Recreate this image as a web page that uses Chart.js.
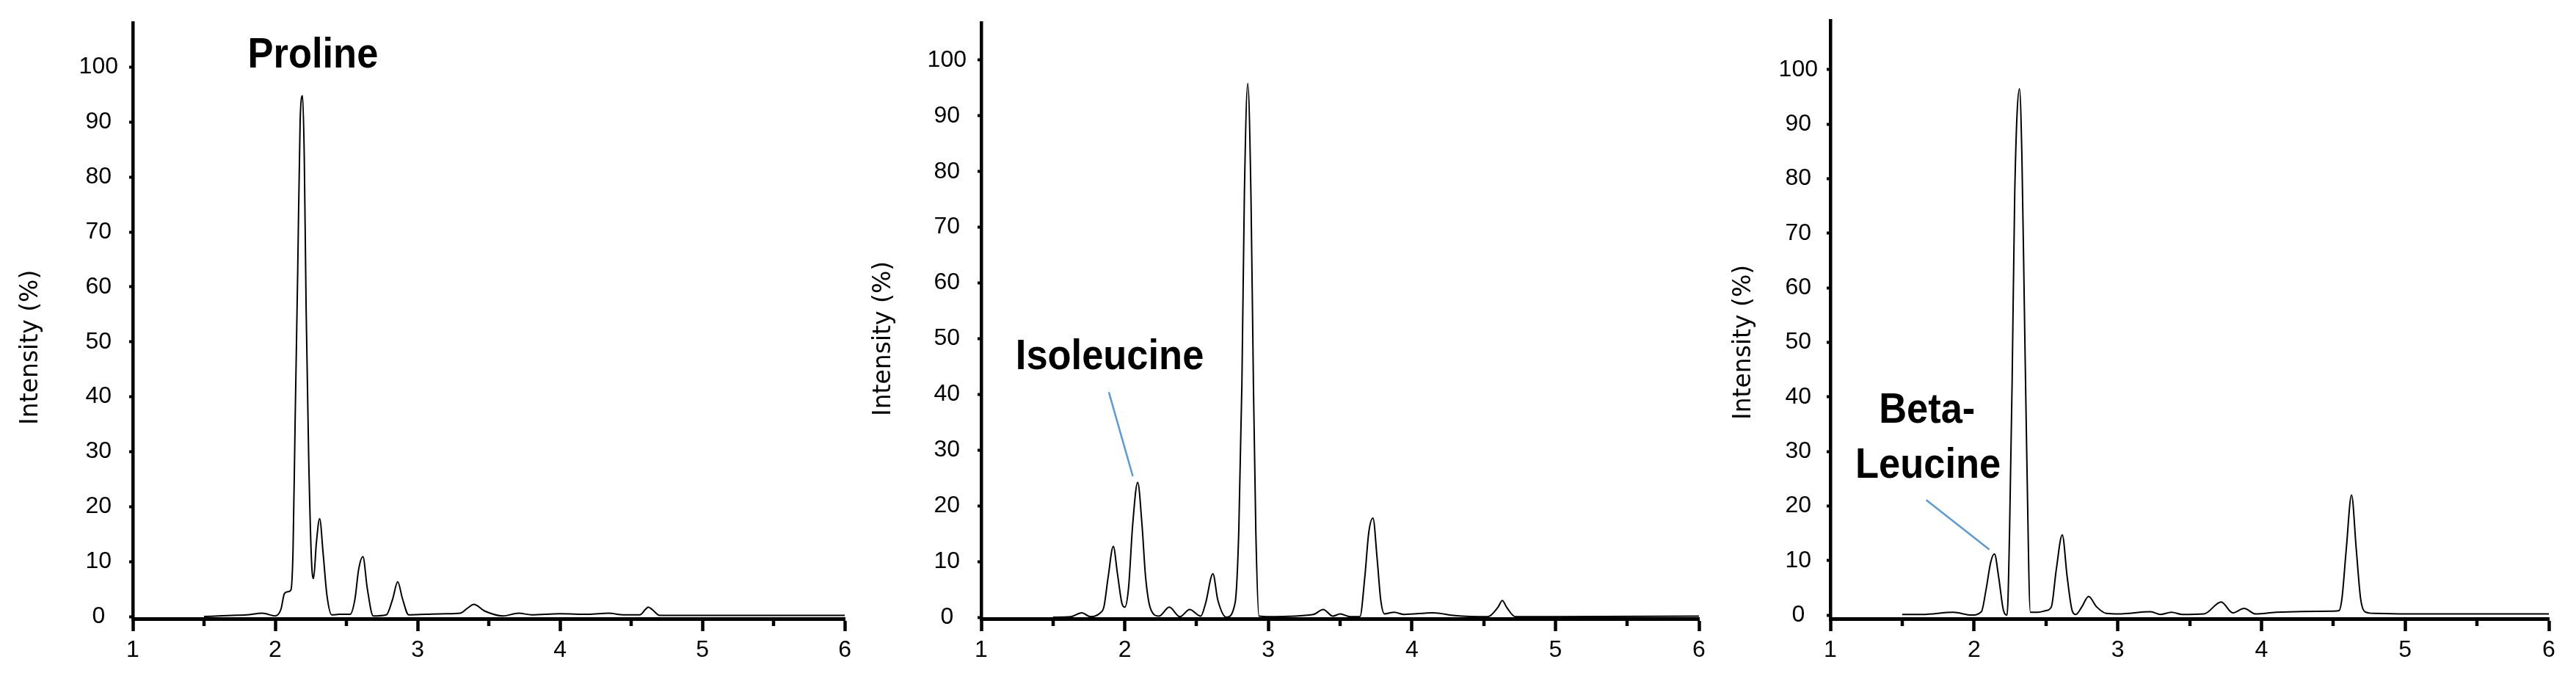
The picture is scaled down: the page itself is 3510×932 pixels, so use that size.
<!DOCTYPE html>
<html><head><meta charset="utf-8">
<script src="https://cdn.jsdelivr.net/npm/chart.js@4.4.1/dist/chart.umd.min.js"></script>
<style>
html,body{margin:0;padding:0;background:#fff;}
#wrap{position:relative;width:3510px;height:932px;background:#fff;overflow:hidden;}
canvas{position:absolute;top:0;}
</style></head><body>
<div id="wrap">
<canvas id="c1" width="1170" height="932" style="left:0px"></canvas>
<canvas id="c2" width="1170" height="932" style="left:1170px"></canvas>
<canvas id="c3" width="1170" height="932" style="left:2340px"></canvas>
</div>
<script>
// ---------- data ----------
const xTicks = [1, 2, 3, 4, 5, 6];
const xMinorTicks = [1.5, 2.5, 3.5, 4.5, 5.5];
const yTicks = [0, 10, 20, 30, 40, 50, 60, 70, 80, 90, 100];
const yTitle = 'Intensity (%)';

const prolineTime = [1.50, 1.60, 1.70, 1.80, 1.91, 2.00, 2.04, 2.065, 2.09, 2.11, 2.125, 2.14, 2.158, 2.175, 2.192, 2.204, 2.217, 2.235, 2.255, 2.269, 2.289, 2.312, 2.337, 2.363, 2.397, 2.45, 2.526, 2.56, 2.586, 2.616, 2.646, 2.688, 2.78, 2.825, 2.86, 2.894, 2.937, 3.06, 3.20, 3.30, 3.35, 3.395, 3.47, 3.60, 3.71, 3.80, 4.00, 4.20, 4.34, 4.45, 4.56, 4.60, 4.62, 4.65, 4.70, 5.00, 5.50, 6.00];
const prolineIntensity = [0.0, 0.1, 0.2, 0.3, 0.6, 0.1, 1.3, 4.2, 4.5, 4.8, 12.0, 35.9, 63.0, 90.3, 94.8, 83.5, 56.0, 29.0, 10.0, 6.9, 13.4, 17.8, 11.3, 3.9, 0.3, 0.4, 0.4, 3.2, 8.6, 10.9, 5.2, 0.1, 0.3, 3.2, 6.3, 3.2, 0.3, 0.4, 0.5, 0.6, 1.5, 2.2, 1.0, 0.1, 0.6, 0.3, 0.5, 0.4, 0.6, 0.3, 0.3, 1.3, 1.7, 1.2, 0.2, 0.2, 0.2, 0.2];

const isoleucineTime = [1.50, 1.625, 1.70, 1.76, 1.83, 1.855, 1.884, 1.92, 1.949, 1.98, 2.00, 2.026, 2.055, 2.09, 2.12, 2.145, 2.18, 2.239, 2.31, 2.384, 2.452, 2.529, 2.563, 2.614, 2.648, 2.708, 2.768, 2.794, 2.816, 2.833, 2.857, 2.879, 2.896, 2.913, 2.935, 3.007, 3.314, 3.382, 3.45, 3.50, 3.57, 3.638, 3.672, 3.70, 3.729, 3.758, 3.783, 3.809, 3.877, 3.945, 4.147, 4.30, 4.53, 4.60, 4.63, 4.66, 4.72, 5.00, 6.00];
const isoleucineIntensity = [0.0, 0.1, 0.8, 0.1, 0.8, 1.9, 7.2, 12.7, 7.8, 2.5, 1.8, 5.2, 16.6, 24.2, 16.6, 7.2, 1.5, 0.2, 1.8, 0.1, 1.4, 0.2, 2.5, 7.8, 3.1, 0.0, 2.5, 15.3, 42.1, 75.6, 95.8, 75.6, 42.1, 15.3, 0.2, 0.1, 0.5, 1.4, 0.2, 0.6, 0.1, 0.1, 7.2, 15.3, 17.8, 10.5, 3.1, 0.6, 0.9, 0.5, 0.8, 0.3, 0.1, 1.8, 3.0, 1.8, 0.1, 0.1, 0.2];

const betaLeucineTime = [1.50, 1.642, 1.855, 1.983, 2.051, 2.085, 2.116, 2.142, 2.171, 2.205, 2.23, 2.247, 2.265, 2.283, 2.316, 2.333, 2.35, 2.367, 2.392, 2.444, 2.50, 2.538, 2.572, 2.614, 2.648, 2.683, 2.708, 2.75, 2.797, 2.853, 2.92, 3.007, 3.229, 3.297, 3.374, 3.45, 3.60, 3.72, 3.80, 3.88, 3.96, 4.10, 4.50, 4.54, 4.56, 4.59, 4.627, 4.66, 4.69, 4.72, 4.79, 5.00, 6.00];
const betaLeucineIntensity = [0.1, 0.1, 0.5, 0.0, 0.6, 4.9, 9.7, 11.2, 7.0, 0.8, 0.0, 15.2, 42.8, 77.2, 96.5, 84.1, 56.5, 29.0, 0.5, 0.5, 0.8, 1.5, 8.3, 14.7, 7.0, 0.8, 0.1, 1.5, 3.4, 1.5, 0.3, 0.2, 0.6, 0.1, 0.5, 0.1, 0.2, 2.4, 0.4, 1.2, 0.2, 0.5, 0.7, 0.8, 3.0, 12.0, 22.0, 12.0, 3.0, 0.6, 0.3, 0.2, 0.2];

// ---------- styling / layout ----------
const TICK_FAMILY = "'Liberation Sans', Arial, Helvetica, sans-serif";
const LABEL_FONT = "bold 57px 'Liberation Sans', Arial, Helvetica, sans-serif";
const LABEL_SCALE_X = 0.92;
const TITLE_FONT = "33px 'DejaVu Sans', Verdana, sans-serif";

const panels = {
  c1: { time: prolineTime, values: prolineIntensity, left: 181, right: 11, ymin: -0.4, ymax: 108.1, yPad: 15, xPad: 10, titleX: 42, titleV: 49,
        labels: [{ text: 'Proline', x: 2.265, y: 99.9 }], connectors: [] },
  c2: { time: isoleucineTime, values: isoleucineIntensity, left: 167, right: 25, ymin: -0.26, ymax: 106.7, yPad: 15, xPad: 10, titleX: 34, titleV: 50,
        labels: [{ text: 'Isoleucine', x: 1.895, y: 44.5 }], connectors: [{ x1: 1.889, y1: 40.4, x2: 2.056, y2: 25.3 }] },
  c3: { time: betaLeucineTime, values: betaLeucineIntensity, left: 154, right: 37, ymin: -0.67, ymax: 109.0, yPad: 12, xPad: 10, titleX: 36, titleV: 50,
        labels: [{ text: 'Beta-', x: 1.673, y: 35.2 }, { text: 'Leucine', x: 1.68, y: 25.2 }], connectors: [{ x1: 1.667, y1: 21.1, x2: 2.106, y2: 12.0 }] }
};

const decorPlugin = {
  id: 'decor',
  afterDraw(chart) {
    const P = panels[chart.canvas.id];
    const { ctx, chartArea } = chart;
    const x = chart.scales.x, y = chart.scales.y;
    ctx.save();
    // minor x ticks
    ctx.strokeStyle = '#000';
    ctx.lineWidth = 4.5;
    xMinorTicks.forEach(v => {
      const px = Math.round(x.getPixelForValue(v));
      ctx.beginPath();
      ctx.moveTo(px, chartArea.bottom);
      ctx.lineTo(px, chartArea.bottom + 10);
      ctx.stroke();
    });
    // y axis title
    ctx.save();
    ctx.translate(P.titleX, y.getPixelForValue(P.titleV));
    ctx.rotate(-Math.PI / 2);
    ctx.font = TITLE_FONT;
    ctx.fillStyle = '#000';
    ctx.textAlign = 'center';
    ctx.textBaseline = 'middle';
    ctx.fillText(yTitle, 0, 0);
    ctx.restore();
    // connectors
    ctx.strokeStyle = '#5B9BD5';
    ctx.lineWidth = 2.5;
    P.connectors.forEach(c => {
      ctx.beginPath();
      ctx.moveTo(x.getPixelForValue(c.x1), y.getPixelForValue(c.y1));
      ctx.lineTo(x.getPixelForValue(c.x2), y.getPixelForValue(c.y2));
      ctx.stroke();
    });
    // compound labels
    ctx.fillStyle = '#000';
    ctx.font = LABEL_FONT;
    ctx.textAlign = 'center';
    ctx.textBaseline = 'alphabetic';
    P.labels.forEach(l => {
      ctx.save();
      ctx.translate(x.getPixelForValue(l.x), y.getPixelForValue(l.y));
      ctx.scale(LABEL_SCALE_X, 1);
      ctx.fillText(l.text, 0, 0);
      ctx.restore();
    });
    ctx.restore();
  }
};

function makePanel(id) {
  const P = panels[id];
  new Chart(document.getElementById(id), {
    type: 'line',
    data: {
      datasets: [{
        data: P.time.map((t, i) => ({ x: t, y: P.values[i] })),
        borderColor: '#000',
        borderWidth: 2,
        pointRadius: 0,
        fill: false,
        cubicInterpolationMode: 'monotone'
      }]
    },
    options: {
      responsive: false,
      animation: false,
      devicePixelRatio: 1,
      layout: { padding: { left: 0, right: P.right, top: 28, bottom: 0 } },
      plugins: { legend: { display: false }, tooltip: { enabled: false }, title: { display: false } },
      scales: {
        x: {
          type: 'linear', min: 1, max: 6,
          afterBuildTicks: s => { s.ticks = xTicks.map(v => ({ value: v })); },
          afterFit: s => { s.height = 89; },
          grid: { drawOnChartArea: false, drawTicks: true, tickLength: 17, tickWidth: 4.5, tickColor: '#000' },
          border: { display: true, color: '#000', width: 5 },
          ticks: { color: '#000', font: { family: TICK_FAMILY, size: 32, lineHeight: 1 }, padding: P.xPad, maxRotation: 0, autoSkip: false }
        },
        y: {
          type: 'linear', min: P.ymin, max: P.ymax,
          afterBuildTicks: s => { s.ticks = yTicks.map(v => ({ value: v })); },
          afterFit: s => { s.width = P.left; },
          grid: { drawOnChartArea: false, drawTicks: true, tickLength: 5, tickWidth: 4, tickColor: '#000' },
          border: { display: true, color: '#000', width: 4.5 },
          ticks: { color: '#000', font: { family: TICK_FAMILY, size: 32, lineHeight: 1 }, padding: P.yPad, crossAlign: 'center', autoSkip: false }
        }
      }
    },
    plugins: [decorPlugin]
  });
}
['c1', 'c2', 'c3'].forEach(makePanel);
</script>
</body></html>
